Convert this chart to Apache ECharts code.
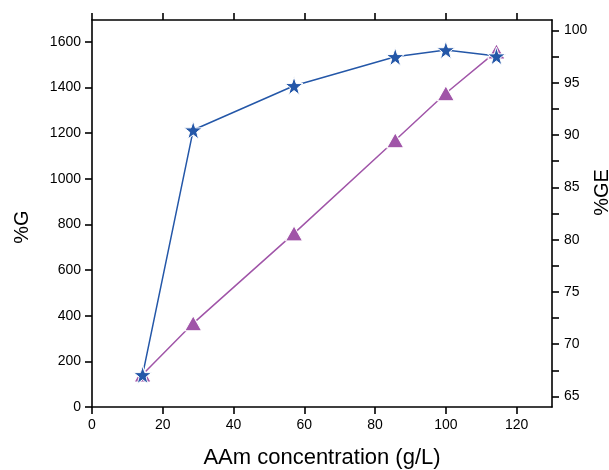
<!DOCTYPE html>
<html>
<head>
<meta charset="utf-8">
<script src="https://cdn.jsdelivr.net/npm/echarts@6/dist/echarts.min.js"></script>
<style>html,body{margin:0;padding:0;background:#fff}#c{width:609px;height:470px}</style>
</head>
<body>
<div id="c"></div>
<script>
const xValues = [14.3, 28.6, 57.1, 85.7, 100, 114.3];
const gValues = [141, 1213, 1407, 1534, 1564, 1537];
const geValues = [67.1, 72.0, 80.6, 89.5, 94.0, 98.0];
const leftTicks = [0, 200, 400, 600, 800, 1000, 1200, 1400, 1600];
const rightLabels = [65, 70, 75, 80, 85, 90, 95, 100];
const rightTicks = [65, 67.5, 70, 72.5, 75, 77.5, 80, 82.5, 85, 87.5, 90, 92.5, 95, 97.5, 100];
const xTicks = [0, 20, 40, 60, 80, 100, 120];

const BLUE = '#2457a8';
const PURPLE = '#a055a8';
const FONT = 'Liberation Sans, Arial, sans-serif';
const lineStyle = {color: '#000', width: 1.6};
const plain = v => String(v);

const chart = echarts.init(document.getElementById('c'), null, {renderer: 'canvas'});
chart.setOption({
  animation: false,
  backgroundColor: '#fff',
  grid: {left: 92, right: 57, top: 20, bottom: 63, containLabel: false, outerBoundsMode: 'none'},
  xAxis: [{
    type: 'value', min: 0, max: 130, position: 'bottom',
    name: 'AAm concentration (g/L)', nameLocation: 'middle', nameGap: 40,
    nameTextStyle: {fontFamily: FONT, fontSize: 22, color: '#000'},
    axisLine: {show: true, onZero: false, lineStyle},
    axisTick: {show: true, length: 7, lineStyle, customValues: xTicks},
    axisLabel: {fontFamily: FONT, fontSize: 14, color: '#000', margin: 11, customValues: xTicks, formatter: plain},
    splitLine: {show: false}
  }, {
    type: 'value', min: 0, max: 130, position: 'top',
    axisLine: {show: true, onZero: false, lineStyle},
    axisTick: {show: true, length: 7, lineStyle, customValues: xTicks},
    axisLabel: {show: false},
    splitLine: {show: false}
  }],
  yAxis: [{
    type: 'value', min: 0, max: 1695, position: 'left',
    name: '%G', nameLocation: 'middle', nameGap: 60, nameRotate: 90,
    nameTextStyle: {fontFamily: FONT, fontSize: 20, color: '#000', padding: [0, 27, 0, 0]},
    axisLine: {show: true, onZero: false, lineStyle},
    axisTick: {show: true, length: 7, lineStyle, customValues: leftTicks},
    axisLabel: {fontFamily: FONT, fontSize: 14, color: '#000', margin: 11, customValues: leftTicks, formatter: plain},
    splitLine: {show: false}
  }, {
    type: 'value', min: 64, max: 101, position: 'right',
    name: '%GE', nameLocation: 'middle', nameGap: 40, nameRotate: 90, nameMoveOverlap: false,
    nameTextStyle: {fontFamily: FONT, fontSize: 20, color: '#000', padding: [0, 0, 0, 42]},
    axisLine: {show: true, onZero: false, lineStyle},
    axisTick: {show: true, length: 7, lineStyle, customValues: rightTicks},
    axisLabel: {fontFamily: FONT, fontSize: 14, color: '#000', margin: 12, customValues: rightLabels, formatter: plain},
    splitLine: {show: false}
  }],
  series: [{
    name: '%GE', type: 'line', yAxisIndex: 1,
    data: xValues.map((x, i) => [x, geValues[i]]),
    symbol: 'triangle', symbolSize: [17, 15],
    lineStyle: {color: PURPLE, width: 1.5},
    itemStyle: {color: PURPLE, borderColor: '#fff', borderWidth: 1}
  }, {
    name: '%G', type: 'line', yAxisIndex: 0,
    data: xValues.map((x, i) => [x, gValues[i]]),
    symbol: 'path://M50,0 L61.8,35.1 L98.9,35.1 L69.1,57.6 L79.4,92.7 L50,71.3 L20.6,92.7 L30.9,57.6 L1.1,35.1 L38.2,35.1 Z',
    symbolSize: 18,
    lineStyle: {color: BLUE, width: 1.5},
    itemStyle: {color: BLUE, borderColor: '#fff', borderWidth: 1}
  }]
});
</script>
</body>
</html>
